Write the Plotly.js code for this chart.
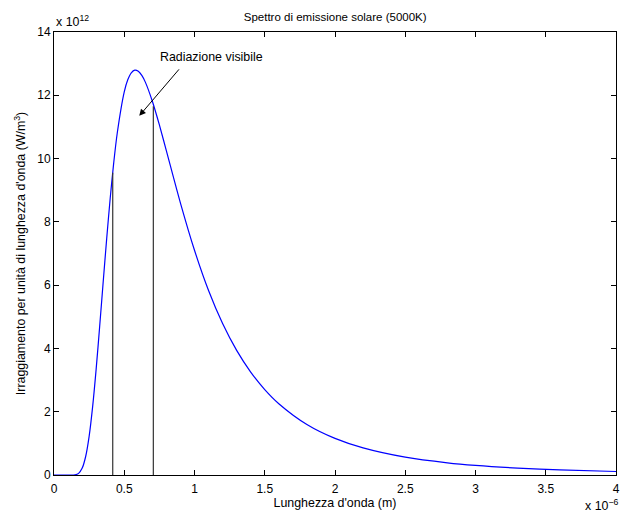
<!DOCTYPE html>
<html>
<head>
<meta charset="utf-8">
<script src="https://cdn.plot.ly/plotly-3.0.1.min.js"></script>
<style>html,body{margin:0;padding:0;background:#fff;}#chart{width:623px;height:513px;}</style>
</head>
<body>
<div id="chart"></div>
<script>
// Wavelength (units of 1e-6 m) and irradiance (units of 1e12 W/m^3)
const wavelength = [0, 0.05, 0.1, 0.15, 0.175, 0.2, 0.225, 0.25, 0.275, 0.3, 0.325, 0.35, 0.375, 0.4, 0.425, 0.45, 0.5, 0.525, 0.55, 0.575, 0.6, 0.625, 0.65, 0.7, 0.75, 0.8, 0.9, 1.0, 1.1, 1.2, 1.3, 1.4, 1.5, 1.6, 1.8, 2.0, 2.2, 2.5, 2.8, 3.0, 3.3, 3.6, 4.0];
const irradiance = [0, 0, 0, 0.007, 0.052, 0.21, 0.577, 1.223, 2.162, 3.347, 4.691, 6.099, 7.471, 8.745, 9.863, 10.80, 12.108, 12.489, 12.712, 12.797, 12.762, 12.629, 12.416, 11.811, 11.063, 10.243, 8.593, 7.102, 5.830, 4.786, 3.937, 3.252, 2.700, 2.254, 1.597, 1.157, 0.857, 0.564, 0.386, 0.3045, 0.2187, 0.1609, 0.1104];
// Visible-band limits (vertical lines) and their heights
const visibleLimits = [0.418, 0.707];
const visibleHeights = [9.55, 11.65];
const xTicks = [0, 0.5, 1, 1.5, 2, 2.5, 3, 3.5, 4];
const xTickLabels = ['0', '0.5', '1', '1.5', '2', '2.5', '3', '3.5', '4'];
const yTicks = [0, 2, 4, 6, 8, 10, 12, 14];
const arrowTip = [0.607, 11.35];
const labelPos = [1.121, 13.22];

const fam = 'Liberation Sans, Arial, sans-serif';
const titleFont = {family: fam, size: 11.5, color: '#000'};
const tickFont = {family: fam, size: 12, color: '#000'};
const labelFont = {family: fam, size: 12.4, color: '#000'};

const traces = [
  {x: wavelength, y: irradiance, type: 'scatter', mode: 'lines',
   line: {color: '#0000ff', width: 1.2, shape: 'spline', smoothing: 0.8}, hoverinfo: 'none'}
];
visibleLimits.forEach((v, i) => {
  traces.push({x: [v, v], y: [0, visibleHeights[i]], type: 'scatter', mode: 'lines',
    line: {color: '#333', width: 1.2}, hoverinfo: 'none'});
});

const axisCommon = {
  showline: true, linecolor: '#000', linewidth: 1, mirror: 'ticks',
  ticks: 'inside', ticklen: 5, tickcolor: '#000', tickwidth: 1,
  showgrid: false, zeroline: false, tickfont: tickFont
};

const layout = {
  width: 623, height: 513,
  margin: {l: 54, r: 7, t: 32, b: 38},
  paper_bgcolor: '#fff', plot_bgcolor: '#fff',
  showlegend: false,
  font: titleFont,
  title: {text: 'Spettro di emissione solare (5000K)', font: titleFont, x: 0.538, xanchor: 'center', y: 0.967, yanchor: 'middle'},
  xaxis: Object.assign({}, axisCommon, {
    range: [0, 4], tickvals: xTicks, ticktext: xTickLabels, ticklabelstandoff: 3,
    title: {text: "Lunghezza d'onda (m)", font: labelFont, standoff: 0}
  }),
  yaxis: Object.assign({}, axisCommon, {
    range: [0, 14], tickvals: yTicks,
    title: {text: "Irraggiamento per unità di lunghezza d'onda (W/m<sup>3</sup>)", font: labelFont, standoff: 8}
  }),
  annotations: [
    {x: arrowTip[0], y: arrowTip[1], xref: 'x', yref: 'y', ax: 41, ay: -48,
     showarrow: true, arrowhead: 2, arrowsize: 1.3, arrowwidth: 1, arrowcolor: '#000', text: ''},
    {x: labelPos[0], y: labelPos[1], xref: 'x', yref: 'y', text: 'Radiazione visibile',
     showarrow: false, font: labelFont},
    {x: 0, y: 1, xref: 'paper', yref: 'paper', xanchor: 'left', yanchor: 'bottom', yshift: 1,
     text: 'x 10<sup>12</sup>', showarrow: false, font: labelFont},
    {x: 1, y: 0, xref: 'paper', yref: 'paper', xanchor: 'right', yanchor: 'top', yshift: -20, xshift: 4,
     text: 'x 10<sup>\u22126</sup>', showarrow: false, font: labelFont}
  ]
};

Plotly.newPlot('chart', traces, layout, {staticPlot: true, displayModeBar: false});
</script>
</body>
</html>
